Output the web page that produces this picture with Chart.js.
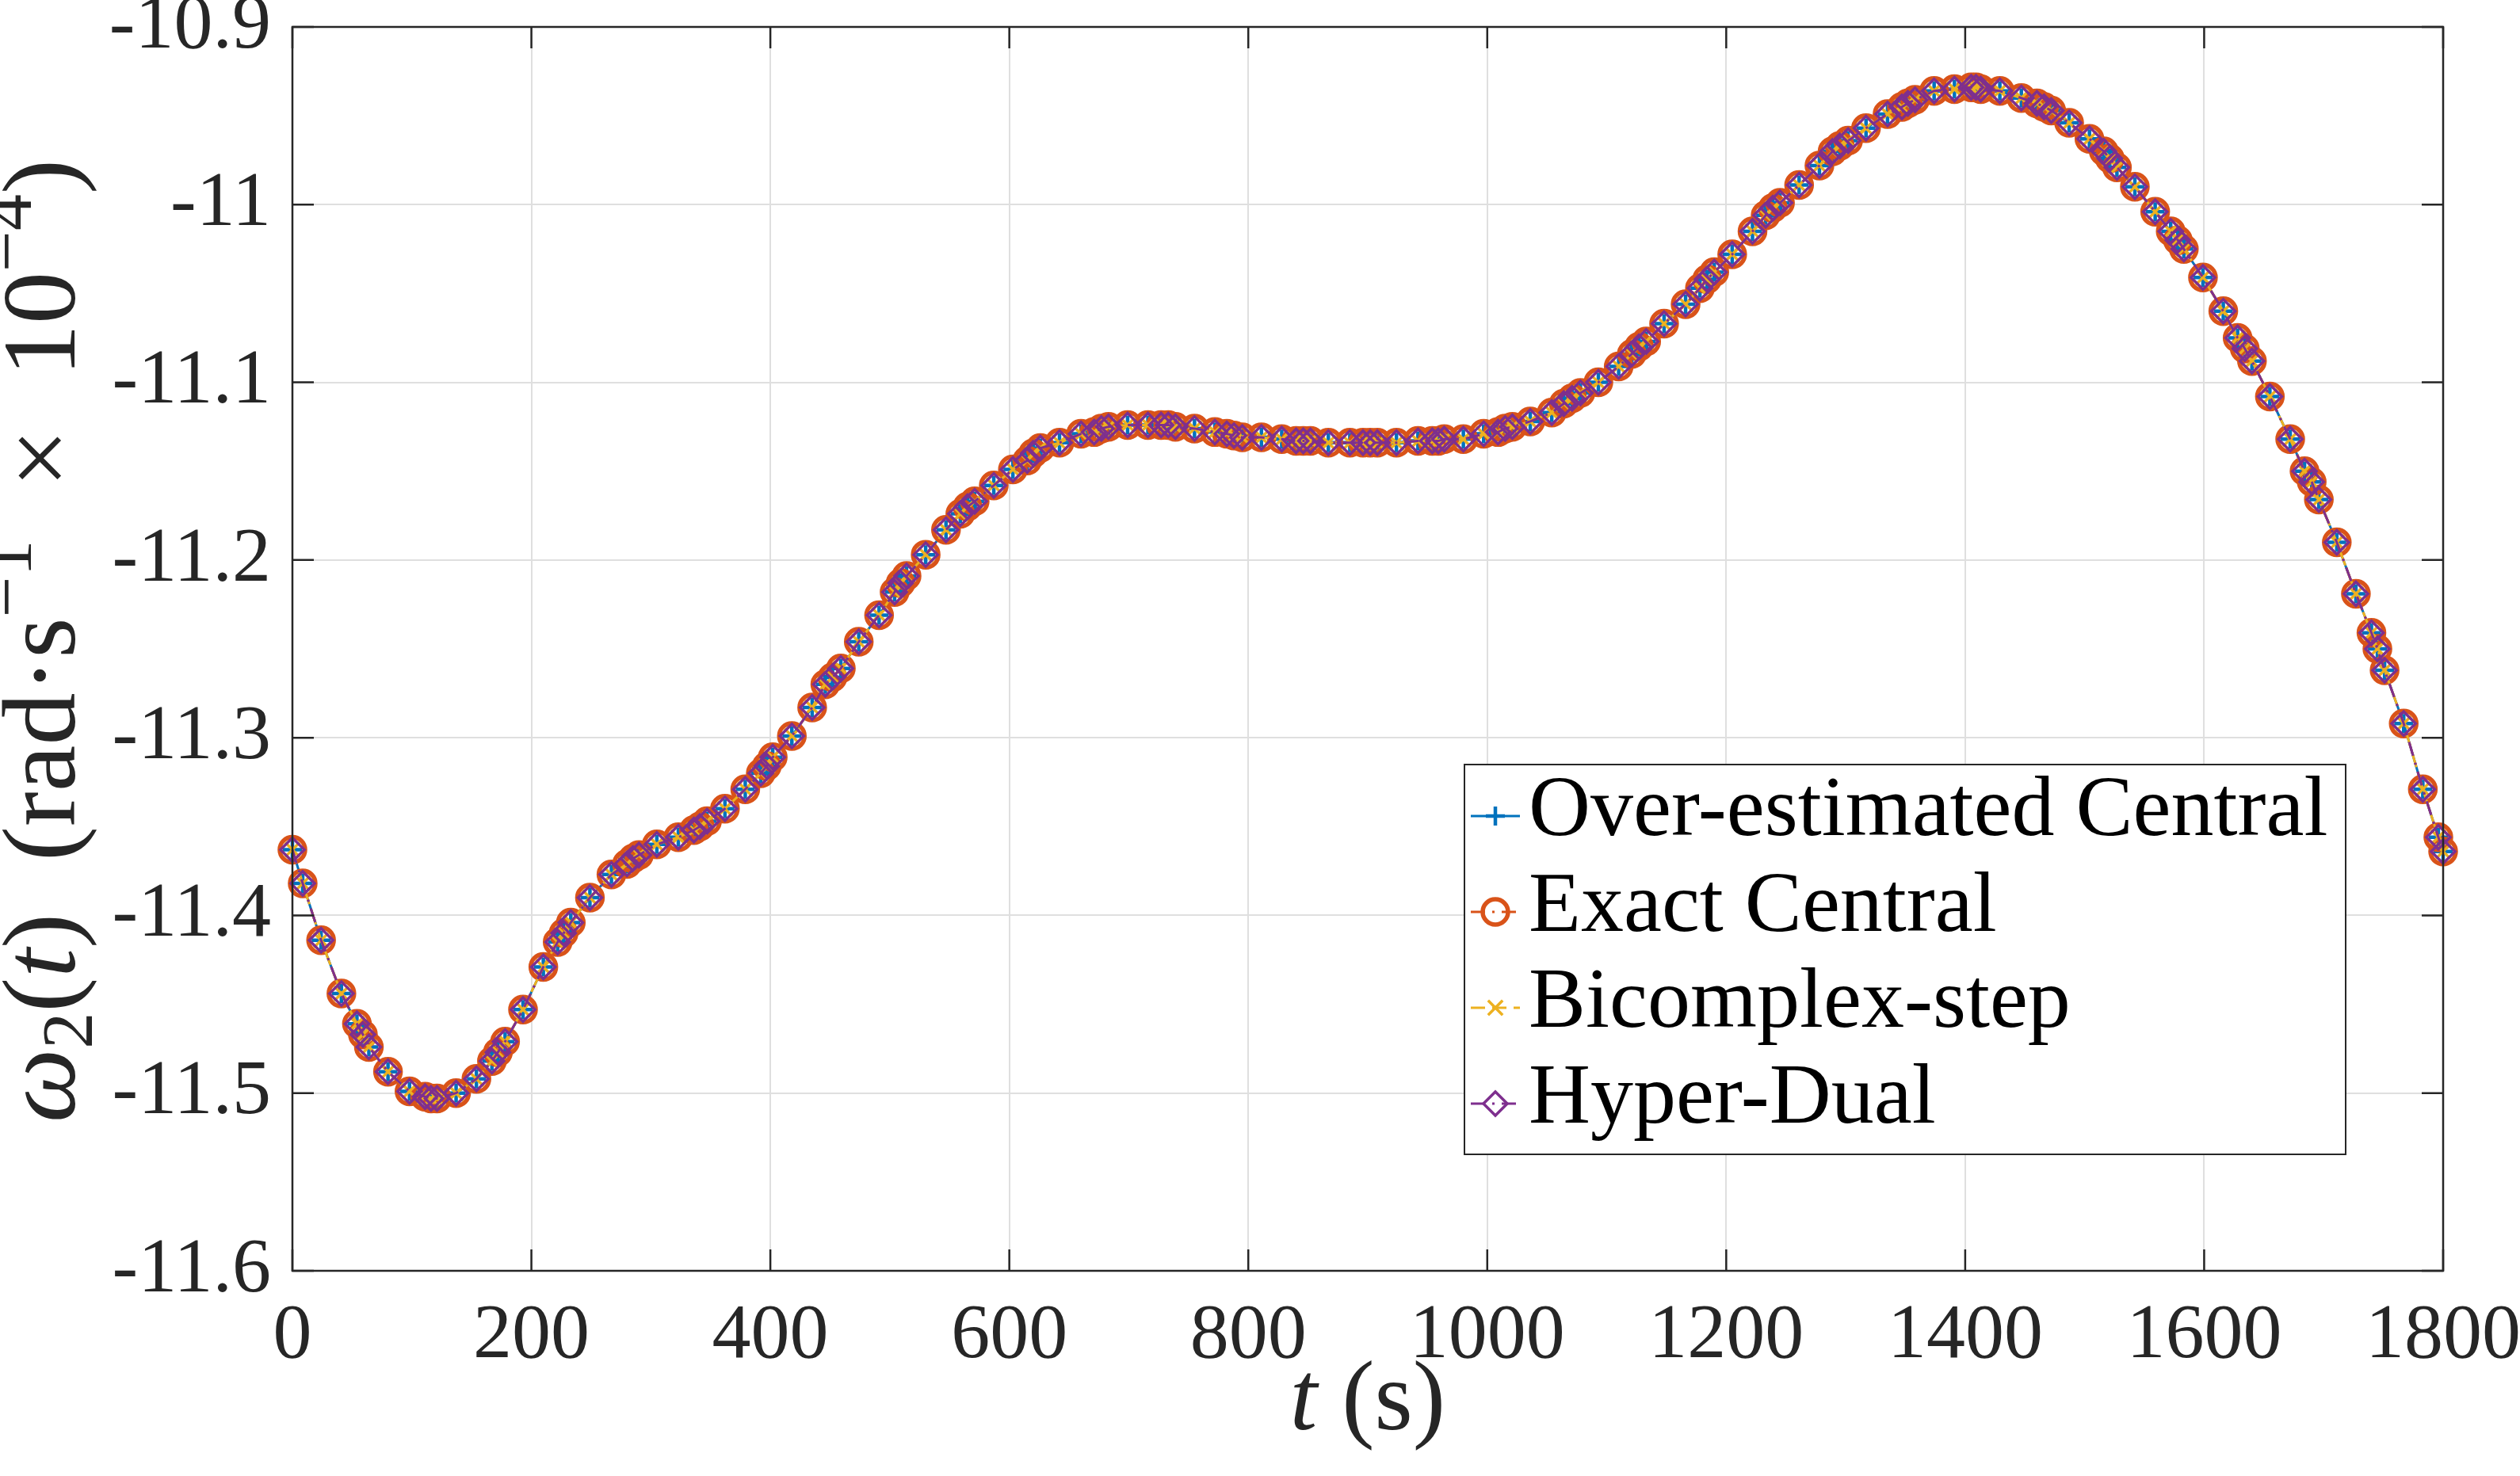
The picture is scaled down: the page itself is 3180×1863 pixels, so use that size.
<!DOCTYPE html>
<html>
<head>
<meta charset="utf-8">
<script src="https://cdn.jsdelivr.net/npm/chart.js@4.4.1/dist/chart.umd.min.js"></script>
<style>
    html, body { margin: 0; padding: 0; background: #fff; }
</style>
</head>
<body>
<canvas id="omega_chart" width="3180" height="1863"></canvas>
<script>
// solver output times (s)
const timeSteps = [
    0, 8.6, 24, 41, 54, 59, 64, 80, 98, 111, 116, 121, 137, 154, 167, 172, 178, 193, 210, 222, 227, 233,
    249, 267, 280, 285, 290, 305, 323, 336, 341, 347, 362, 379, 392, 397, 402, 418, 435, 446, 452, 459,
    474, 491, 504, 509, 514, 530, 547, 559, 565, 571, 587, 603, 615, 620, 626, 642, 660, 671, 677, 683,
    699, 716, 727, 733, 739, 755, 772, 782, 788, 795, 811, 828, 840, 846, 852, 867, 885, 896, 902, 908,
    924, 942, 954, 959, 964, 980, 997, 1009, 1015, 1021, 1036, 1054, 1064, 1071, 1078, 1093, 1110, 1121,
    1127, 1133, 1148, 1166, 1178, 1184, 1190, 1205, 1222, 1233, 1239, 1245, 1261, 1278, 1289, 1295, 1302,
    1317, 1335, 1347, 1352, 1358, 1374, 1391, 1405, 1409, 1413, 1429, 1447, 1460, 1466, 1472, 1487, 1504,
    1516, 1521, 1527, 1542, 1559, 1572, 1578, 1583, 1599, 1616, 1628, 1634, 1640, 1655, 1672, 1684, 1690,
    1696, 1711, 1727, 1740, 1745, 1751, 1767, 1783, 1796, 1800
];

// omega_2(t) in rad/s x 1e-4 (the four methods agree to plotting accuracy)
const omega2 = [
    -11.363, -11.382, -11.414, -11.444, -11.461, -11.467, -11.474, -11.488, -11.499, -11.502, -11.503, -11.503,
    -11.500, -11.492, -11.482, -11.477, -11.471, -11.453, -11.429, -11.415, -11.410, -11.404,
    -11.390, -11.377, -11.371, -11.368, -11.366, -11.360, -11.356, -11.352, -11.350, -11.347, -11.340, -11.329,
    -11.320, -11.316, -11.311, -11.299, -11.283, -11.270, -11.266, -11.261,
    -11.246, -11.231, -11.218, -11.213, -11.209, -11.197, -11.183, -11.174, -11.170, -11.167, -11.158, -11.149,
    -11.144, -11.140, -11.137, -11.134, -11.129, -11.128, -11.126, -11.125,
    -11.124, -11.124, -11.124, -11.124, -11.125, -11.126, -11.128, -11.129, -11.130, -11.131, -11.131, -11.132,
    -11.133, -11.133, -11.133, -11.134, -11.134, -11.134, -11.134, -11.134,
    -11.134, -11.133, -11.133, -11.133, -11.132, -11.132, -11.129, -11.128, -11.126, -11.125, -11.122, -11.117,
    -11.112, -11.109, -11.106, -11.100, -11.091, -11.084,
    -11.080, -11.077, -11.067, -11.056, -11.047, -11.042, -11.038, -11.028, -11.015, -11.006, -11.002, -10.999,
    -10.989, -10.978, -10.970, -10.967, -10.964,
    -10.957, -10.949, -10.945, -10.943, -10.941, -10.936, -10.935, -10.934, -10.934, -10.935, -10.936, -10.940,
    -10.943, -10.945, -10.947, -10.954, -10.963,
    -10.970, -10.974, -10.979, -10.990, -11.004, -11.015, -11.020, -11.025, -11.041, -11.060, -11.075, -11.081,
    -11.088, -11.108, -11.132, -11.150, -11.156,
    -11.166, -11.190, -11.219, -11.241, -11.250, -11.262, -11.292, -11.329, -11.356, -11.364
];

const overEstimatedCentral = omega2;
const exactCentral         = omega2;
const bicomplexStep        = omega2;
const hyperDual            = omega2;

// tick labels
const tTicks     = [0, 200, 400, 600, 800, 1000, 1200, 1400, 1600, 1800];
const omegaTicks = [-11.6, -11.5, -11.4, -11.3, -11.2, -11.1, -11, -10.9];

const seriesNames = ['Over-estimated Central', 'Exact Central', 'Bicomplex-step', 'Hyper-Dual'];

const toPoints = ( values ) => timeSteps.map( ( t, i ) => ({ x: t, y: values[i] }) );

const FONT = "'Liberation Serif', 'Times New Roman', serif";
const INK  = '#262626';

// draw a mixed italic / sub / sup string centred on 0,0 (current transform)
function drawRich( ctx, parts, size )
{
    const fontOf = ( p ) => ( p.it ? 'italic ' : '' ) + Math.round( size * ( p.sub || p.sup ? 0.7 : 1 ) ) + 'px ' + FONT;
    let total = 0;
    parts.forEach( ( p ) => { ctx.font = fontOf( p ); p.w = ctx.measureText( p.t ).width; total += p.w; } );
    let x = -total / 2;
    parts.forEach( ( p ) => {
        ctx.font = fontOf( p );
        const dy = p.sub ? size * 0.17 : ( p.sup ? -size * 0.42 : 0 );
        ctx.fillText( p.t, x, dy );
        x += p.w;
    });
}

const axesBox = {
    id: 'axesBox',
    afterDatasetsDraw( chart )
    {
        const { ctx, chartArea: a, scales: { x, y } } = chart;
        const tl = 27;
        ctx.save();
        ctx.strokeStyle = INK;
        ctx.lineWidth = 2.5;
        ctx.beginPath();
        x.ticks.forEach( ( t ) => {
            const px = x.getPixelForValue( t.value );
            ctx.moveTo( px, a.bottom ); ctx.lineTo( px, a.bottom - tl );
            ctx.moveTo( px, a.top );    ctx.lineTo( px, a.top + tl );
        });
        y.ticks.forEach( ( t ) => {
            const py = y.getPixelForValue( t.value );
            ctx.moveTo( a.left, py );  ctx.lineTo( a.left + tl, py );
            ctx.moveTo( a.right, py ); ctx.lineTo( a.right - tl, py );
        });
        ctx.stroke();
        ctx.strokeRect( a.left, a.top, a.right - a.left, a.bottom - a.top );

        // axis titles
        ctx.fillStyle = INK;
        ctx.textBaseline = 'alphabetic';
        ctx.save();
        ctx.translate( ( a.left + a.right ) / 2, 1804 );
        drawRich( ctx, [ { t: 't', it: 1 }, { t: ' (s)' } ], 124 );
        ctx.restore();

        ctx.save();
        ctx.translate( 94, ( a.top + a.bottom ) / 2 - 10 );
        ctx.rotate( -Math.PI / 2 );
        drawRich( ctx, [
            { t: 'ω', it: 1 }, { t: '2', sub: 1 }, { t: '(' }, { t: 't', it: 1 }, { t: ')' },
            { t: '  (rad·s' }, { t: '−1', sup: 1 }, { t: '  ×  10' }, { t: '−4', sup: 1 }, { t: ')' }
        ], 132 );
        ctx.restore();
        ctx.restore();
    }
};

const boxLegend = {
    id: 'boxLegend',
    afterDraw( chart )
    {
        const ctx = chart.ctx;
        const left = 1848, top = 965, right = 2960, bottom = 1457;
        const rowY = [1030, 1151, 1272, 1393];
        ctx.save();
        ctx.fillStyle = '#fff';
        ctx.fillRect( left, top, right - left, bottom - top );
        ctx.strokeStyle = INK;
        ctx.lineWidth = 2;
        ctx.strokeRect( left, top, right - left, bottom - top );

        chart.data.datasets.forEach( ( ds, i ) => {
            const yy = rowY[i];
            ctx.strokeStyle = ds.borderColor;
            ctx.lineWidth = ds.borderWidth;
            ctx.setLineDash( ds.borderDash || [] );
            ctx.beginPath();
            ctx.moveTo( 1856, yy );
            ctx.lineTo( 1918, yy );
            ctx.stroke();
            ctx.setLineDash( [] );
            ctx.fillStyle = 'rgba(0,0,0,0)';
            ctx.lineWidth = ds.pointBorderWidth;
            Chart.helpers.drawPoint( ctx, {
                pointStyle: ds.pointStyle, radius: ds.pointRadius, borderWidth: ds.pointBorderWidth, rotation: 0
            }, 1887, yy );

            ctx.fillStyle = '#000';
            ctx.font = '108px ' + FONT;
            ctx.textBaseline = 'alphabetic';
            ctx.fillText( ds.label, 1929, yy + 24 );
        });
        ctx.restore();
    }
};

const seriesStyle = [
    { color: '#0072BD', dash: [],            point: 'cross',    radius: 12,   pw: 4.5 },
    { color: '#D95319', dash: [18, 9, 3, 9], point: 'circle',   radius: 16,   pw: 5.5 },
    { color: '#EDB120', dash: [18, 9],       point: 'crossRot', radius: 13,   pw: 3.5 },
    { color: '#7E2F8E', dash: [18, 9, 3, 9], point: 'rectRot',  radius: 15,   pw: 3.5 }
];

const seriesValues = [overEstimatedCentral, exactCentral, bicomplexStep, hyperDual];

const datasets = seriesValues.map( ( values, i ) => ({
    label: seriesNames[i],
    data: toPoints( values ),
    borderColor: seriesStyle[i].color,
    borderWidth: 3,
    borderDash: seriesStyle[i].dash,
    pointStyle: seriesStyle[i].point,
    pointRadius: seriesStyle[i].radius,
    pointBorderWidth: seriesStyle[i].pw,
    pointBorderColor: seriesStyle[i].color,
    pointBackgroundColor: 'rgba(0,0,0,0)',
    backgroundColor: 'rgba(0,0,0,0)',
    tension: 0,
    fill: false,
    clip: false,
    order: 4 - i
}) );

new Chart( document.getElementById( 'omega_chart' ), {
    type: 'line',
    data: { datasets: datasets },
    options: {
        responsive: false,
        animation: false,
        events: [],
        layout: { padding: { left: 0, top: 34, right: 97, bottom: 0 } },
        plugins: { legend: { display: false }, tooltip: { enabled: false } },
        scales: {
            x: {
                type: 'linear',
                min: 0,
                max: 1800,
                afterBuildTicks: ( scale ) => { scale.ticks = tTicks.map( ( v ) => ({ value: v }) ); },
                afterFit: ( scale ) => { scale.height = 259; scale.paddingLeft = 0; scale.paddingRight = 0; },
                grid: { color: '#dfdfdf', lineWidth: 2, drawTicks: false },
                border: { display: false },
                ticks: {
                    padding: 24,
                    color: INK,
                    maxRotation: 0,
                    font: { family: FONT, size: 98 },
                    callback: ( v ) => String( v )
                }
            },
            y: {
                type: 'linear',
                min: -11.6,
                max: -10.9,
                afterBuildTicks: ( scale ) => { scale.ticks = omegaTicks.map( ( v ) => ({ value: v }) ); },
                afterFit: ( scale ) => { scale.width = 369; scale.paddingTop = 0; scale.paddingBottom = 0; },
                grid: { color: '#dfdfdf', lineWidth: 2, drawTicks: false },
                border: { display: false },
                ticks: {
                    padding: 27,
                    color: INK,
                    font: { family: FONT, size: 98 },
                    callback: ( v ) => String( parseFloat( v.toFixed( 1 ) ) )
                }
            }
        }
    },
    plugins: [axesBox, boxLegend]
});
</script>
</body>
</html>
